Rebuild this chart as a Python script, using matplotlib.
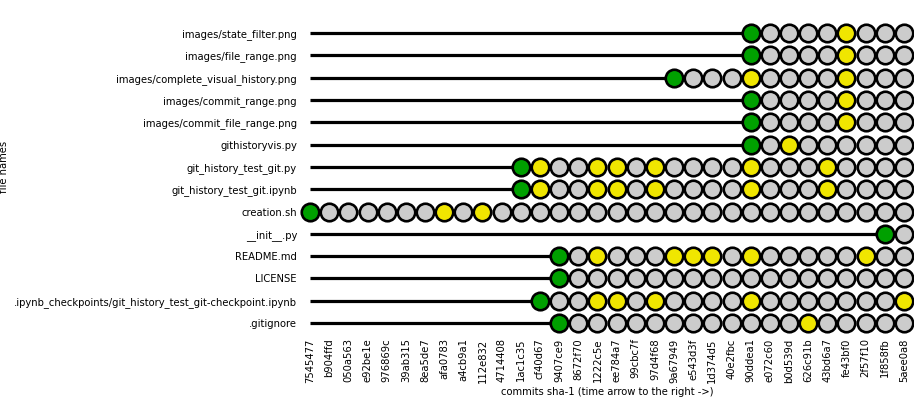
import matplotlib
matplotlib.use('Agg')
import matplotlib.pyplot as plt

commits = ['7545477', 'b904ffd', '050a563', 'e92be1e', '976869c', '39ab315',
           '8ea5de7', 'afa0783', 'a4cb9a1', '112e832', '4714408', '1ac1c35',
           'cf40d67', '9407ce9', '8672f70', '1222c5e', 'ee784a7', '99cbc7f',
           '97d4f68', '9a67949', 'e543d3f', '1d374d5', '40e2fbc', '90ddea1',
           'e072c60', 'b0d539d', '626c91b', '43bd6a7', 'fe43bf0', '2f57f10',
           '1f858fb', '5aee0a8']

# top to bottom as shown in the chart
files = ['images/state_filter.png', 'images/file_range.png',
         'images/complete_visual_history.png', 'images/commit_range.png',
         'images/commit_file_range.png', 'githistoryvis.py',
         'git_history_test_git.py', 'git_history_test_git.ipynb',
         'creation.sh', '__init__.py', 'README.md', 'LICENSE',
         '.ipynb_checkpoints/git_history_test_git-checkpoint.ipynb',
         '.gitignore']

# per file, one char per commit: '.' absent, A added, M modified, U unchanged
states = [
    '.......................AUUUUMUUU',
    '.......................AUUUUMUUU',
    '...................AUUUMUUUUMUUU',
    '.......................AUUUUMUUU',
    '.......................AUUUUMUUU',
    '.......................AUMUUUUUU',
    '...........AMUUMMUMUUUUMUUUMUUUU',
    '...........AMUUMMUMUUUUMUUUMUUUU',
    'AUUUUUUMUMUUUUUUUUUUUUUUUUUUUUUU',
    '..............................AU',
    '.............AUMUUUMMMUMUUUUUMUU',
    '.............AUUUUUUUUUUUUUUUUUU',
    '............AUUMMUMUUUUMUUUUUUUM',
    '.............AUUUUUUUUUUUUMUUUUU',
]

colors = {'A': '#00a000', 'M': '#f0e600', 'U': '#cccccc'}

fig = plt.figure(figsize=(9.14, 3.97), dpi=100)
ax = fig.add_axes([0.3371, 0.158, 0.654, 0.787])

n = len(files)
for row, (name, st) in enumerate(zip(files, states)):
    y = n - 1 - row
    first = st.index('A')
    if first > 0:
        ax.plot([0, first], [y, y], color='black', lw=2.3, zorder=1,
                solid_capstyle='butt', clip_on=False)
    for i, c in enumerate(st):
        if c == '.':
            continue
        ax.plot(i, y, 'o', ms=12.6, mfc=colors[c], mec='black', mew=1.9,
                zorder=2, clip_on=False)

ax.set_xlim(-0.1, 31.1)
ax.set_ylim(-0.5, n - 0.5)
ax.set_xticks(range(len(commits)))
ax.set_xticklabels(commits, rotation=90, fontsize=7.2)
ax.set_yticks(range(n))
ax.set_yticklabels(files[::-1], fontsize=7.2)
ax.tick_params(axis='x', length=0, pad=3)
ax.tick_params(axis='y', length=0, pad=8)
for s in ax.spines.values():
    s.set_visible(False)
ax.set_xlabel('commits sha-1 (time arrow to the right ->)', fontsize=7.2, labelpad=3)
ax.set_ylabel('file names', fontsize=7.2)
ax.yaxis.set_label_coords(-0.5, 0.535)

fig.savefig('out.png', dpi=100)
